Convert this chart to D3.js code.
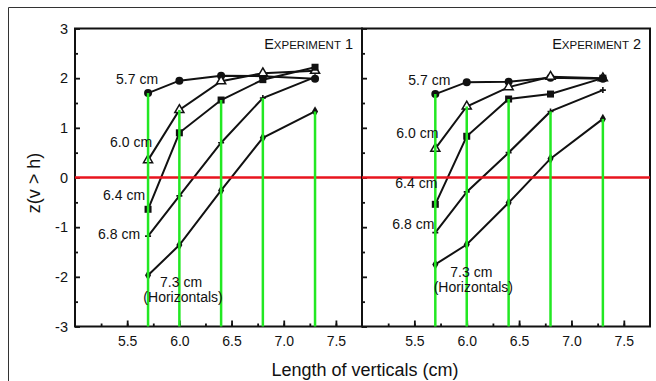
<!DOCTYPE html>
<html>
<head>
<meta charset="utf-8">
<script src="https://cdn.jsdelivr.net/npm/d3@7"></script>
<style>
  body { margin: 0; background: #fff; }
  text { font-family: "Liberation Sans", Arial, sans-serif; fill: #111; }
</style>
</head>
<body>
<script>
// vertical lengths (x) and horizontal lengths (one series each)
const verticals = [5.7, 6.0, 6.4, 6.8, 7.3];
const horizontals = ["5.7 cm", "6.0 cm", "6.4 cm", "6.8 cm", "7.3 cm"];

// Experiment 1, z(v > h) per horizontal length
const exp1_57 = [1.70, 1.95, 2.05, 2.04, 1.99];
const exp1_60 = [0.35, 1.36, 1.94, 2.10, 2.15];
const exp1_64 = [-0.64, 0.90, 1.56, 1.97, 2.22];
const exp1_68 = [-1.18, -0.37, 0.70, 1.60, 2.02];
const exp1_73 = [-1.97, -1.36, -0.26, 0.80, 1.33];

// Experiment 2
const exp2_57 = [1.68, 1.92, 1.93, 2.01, 1.99];
const exp2_60 = [0.58, 1.43, 1.82, 2.03, 2.00];
const exp2_64 = [-0.54, 0.83, 1.58, 1.68, 2.00];
const exp2_68 = [-1.11, -0.29, 0.50, 1.33, 1.76];
const exp2_73 = [-1.75, -1.35, -0.51, 0.38, 1.18];

const xTicks = [5.5, 6.0, 6.5, 7.0, 7.5];
const yTicks = [-3, -2, -1, 0, 1, 2, 3];

const width = 656, height = 381;
const plotTop = 28.5, plotBottom = 326.5;

const svg = d3.select("body").append("svg")
  .attr("width", width)
  .attr("height", height);

// outer frame (left + top only visible)
svg.append("path")
  .attr("d", "M8.5," + height + "V7.5H" + width)
  .attr("fill", "none")
  .attr("stroke", "#333")
  .attr("stroke-width", 1);

const y = d3.scaleLinear().domain([-3, 3]).range([plotBottom, plotTop]);

const panels = [
  { title: "1", x0: 75, x1: 362, series: [exp1_57, exp1_60, exp1_64, exp1_68, exp1_73],
    labelOff: [[10, -9], [4, -13], [-3, -9], [-8, 3], [33, 12]], yLabels: true },
  { title: "2", x0: 362, x1: 650, series: [exp2_57, exp2_60, exp2_64, exp2_68, exp2_73],
    labelOff: [[15, -9], [3, -11], [2, -16], [-1, -4], [36, 13]], yLabels: false }
];

// marker shapes per series: circle, open triangle, square, plus, diamond
function drawMarker(g, i, px, py) {
  if (i === 0) {
    g.append("circle").attr("cx", px).attr("cy", py).attr("r", 4).attr("fill", "#111");
  } else if (i === 1) {
    g.append("path").attr("d", d3.symbol(d3.symbolTriangle, 36)())
      .attr("transform", "translate(" + px + "," + py + ")")
      .attr("fill", "#fff").attr("stroke", "#111").attr("stroke-width", 1.5);
  } else if (i === 2) {
    g.append("rect").attr("x", px - 3.5).attr("y", py - 3.5).attr("width", 7).attr("height", 7).attr("fill", "#111");
  } else if (i === 3) {
    g.append("path").attr("d", "M-3,0H3M0,-3V3")
      .attr("transform", "translate(" + px + "," + py + ")")
      .attr("stroke", "#111").attr("stroke-width", 1.6);
  } else {
    g.append("path").attr("d", d3.symbol(d3.symbolDiamond, 32)())
      .attr("transform", "translate(" + px + "," + py + ")")
      .attr("fill", "#111");
  }
}

const intFmt = d => String(d); // plain hyphen for negatives, as in the original

panels.forEach(p => {
  const x = d3.scaleLinear().domain([5.0, 7.75]).range([p.x0, p.x1]);
  const g = svg.append("g");

  // minor ticks
  g.append("g")
    .attr("transform", "translate(0," + plotBottom + ")")
    .call(d3.axisBottom(x).tickValues(d3.range(5.25, 7.6, 0.25)).tickSizeInner(-3).tickSizeOuter(0).tickFormat(""))
    .call(a => a.select(".domain").remove());
  g.append("g")
    .attr("transform", "translate(" + p.x0 + ",0)")
    .call(d3.axisLeft(y).tickValues(d3.range(-2.5, 3, 1)).tickSizeInner(-3).tickSizeOuter(0).tickFormat(""))
    .call(a => a.select(".domain").remove());

  // major ticks + labels
  const xa = g.append("g")
    .attr("transform", "translate(0," + plotBottom + ")")
    .call(d3.axisBottom(x).tickValues(xTicks).tickSizeInner(-6).tickSizeOuter(0).tickPadding(10).tickFormat(d3.format(".1f")));
  xa.select(".domain").remove();
  xa.selectAll("text").style("font-size", "14px").style("font-family", "Liberation Sans, Arial, sans-serif").attr("fill", "#222");

  const ya = g.append("g")
    .attr("transform", "translate(" + p.x0 + ",0)")
    .call(d3.axisLeft(y).tickValues(yTicks).tickSizeInner(-5).tickSizeOuter(0).tickPadding(7)
      .tickFormat(p.yLabels ? intFmt : ""));
  ya.select(".domain").remove();
  ya.selectAll("text").style("font-size", "14.5px").style("font-family", "Liberation Sans, Arial, sans-serif").attr("fill", "#222");
  g.selectAll(".tick line").attr("stroke", "#111").attr("stroke-width", 1.8);

  // panel frame
  g.append("rect")
    .attr("x", p.x0).attr("y", plotTop)
    .attr("width", p.x1 - p.x0).attr("height", plotBottom - plotTop)
    .attr("fill", "none").attr("stroke", "#111").attr("stroke-width", 2);

  // experiment title in small caps
  const t = g.append("text")
    .attr("x", p.x1 - 9).attr("y", 49)
    .attr("text-anchor", "end");
  t.append("tspan").style("font-size", "14.5px").text("E");
  t.append("tspan").style("font-size", "11.5px").text("XPERIMENT");
  t.append("tspan").style("font-size", "14.5px").text(" " + p.title);

  const line = d3.line()
    .x((d, i) => x(verticals[i]))
    .y(d => y(d));

  p.series.forEach(s => {
    g.append("path")
      .datum(s)
      .attr("d", line)
      .attr("fill", "none")
      .attr("stroke", "#111")
      .attr("stroke-width", 2);
  });

  p.series.forEach((s, i) => {
    s.forEach((v, j) => drawMarker(g, i, x(verticals[j]), y(v)));
  });

  // zero line
  g.append("line")
    .attr("x1", p.x0).attr("x2", p.x1)
    .attr("y1", y(0)).attr("y2", y(0))
    .attr("stroke", "#e8141e").attr("stroke-width", 2.5);

  // green drops where horizontal == vertical
  verticals.forEach((v, i) => {
    g.append("line")
      .attr("x1", x(v)).attr("x2", x(v))
      .attr("y1", y(p.series[i][i])).attr("y2", y(-3))
      .attr("stroke", "#22e822").attr("stroke-width", 2.5);
  });

  // series labels
  p.series.forEach((s, i) => {
    const px = x(verticals[0]) + p.labelOff[i][0];
    const py = y(s[0]) + p.labelOff[i][1];
    g.append("text")
      .attr("x", px).attr("y", py)
      .attr("text-anchor", i === 4 ? "middle" : "end")
      .style("font-size", "14px")
      .text(horizontals[i]);
    if (i === 4) {
      g.append("text")
        .attr("x", px + 2).attr("y", py + 15)
        .attr("text-anchor", "middle")
        .style("font-size", "14px")
        .text("(Horizontals)");
    }
  });
});

// axis titles
svg.append("text")
  .attr("transform", "translate(40,183) rotate(-90)")
  .attr("text-anchor", "middle")
  .style("font-size", "18px")
  .text("z(v > h)");

svg.append("text")
  .attr("x", 365).attr("y", 376)
  .attr("text-anchor", "middle")
  .style("font-size", "18px")
  .text("Length of verticals (cm)");
</script>
</body>
</html>
